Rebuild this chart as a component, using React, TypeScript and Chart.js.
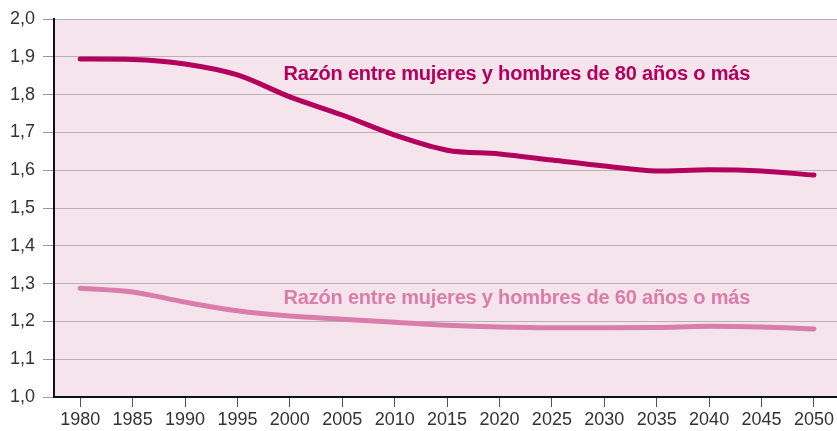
import React, { useEffect, useRef } from "react";
import { Chart, registerables } from "chart.js";

Chart.register(...registerables);

const years = [1980, 1985, 1990, 1995, 2000, 2005, 2010, 2015, 2020, 2025, 2030, 2035, 2040, 2045, 2050];
const ratio80 = [1.894, 1.893, 1.881, 1.852, 1.794, 1.746, 1.693, 1.653, 1.643, 1.627, 1.611, 1.598, 1.601, 1.598, 1.587];
const ratio60 = [1.288, 1.278, 1.251, 1.228, 1.214, 1.206, 1.198, 1.190, 1.185, 1.183, 1.183, 1.184, 1.187, 1.185, 1.180];
const label80 = "Razón entre mujeres y hombres de 80 años o más";
const label60 = "Razón entre mujeres y hombres de 60 años o más";

const C80 = "#b3005c";
const C60 = "#d97dab";

export default function App() {
  const ref = useRef<HTMLCanvasElement>(null);
  useEffect(() => {
    const ctx = ref.current!.getContext("2d")!;
    const bgPlugin = {
      id: "bg",
      beforeDraw(chart: any) {
        const { ctx, chartArea } = chart;
        ctx.save();
        ctx.fillStyle = "#f6e4ec";
        ctx.fillRect(chartArea.left, chartArea.top, chartArea.right - chartArea.left, chartArea.bottom - chartArea.top);
        ctx.restore();
      },
    };
    const textPlugin = {
      id: "texts",
      afterDatasetsDraw(chart: any) {
        const { ctx } = chart;
        const xs = chart.scales.x;
        const ys = chart.scales.y;
        ctx.save();
        ctx.font = "bold 20px 'Liberation Sans', sans-serif";
        try {
          (ctx as any).letterSpacing = "-0.2px";
        } catch (e) {}
        ctx.textBaseline = "middle";
        ctx.textAlign = "left";
        ctx.fillStyle = C80;
        ctx.fillText(label80, xs.getPixelForValue(1999.4), ys.getPixelForValue(1.853));
        ctx.fillStyle = C60;
        ctx.fillText(label60, xs.getPixelForValue(1999.4), ys.getPixelForValue(1.261));
        ctx.restore();
      },
    };
    const chart = new Chart(ctx, {
      type: "line",
      data: {
        datasets: [
          {
            label: label80,
            data: years.map((x, i) => ({ x, y: ratio80[i] })),
            borderColor: C80,
            borderWidth: 5,
            pointRadius: 0,
            tension: 0.4,
            cubicInterpolationMode: "monotone",
            borderCapStyle: "round",
            borderJoinStyle: "round",
          },
          {
            label: label60,
            data: years.map((x, i) => ({ x, y: ratio60[i] })),
            borderColor: C60,
            borderWidth: 5,
            pointRadius: 0,
            tension: 0.4,
            cubicInterpolationMode: "monotone",
            borderCapStyle: "round",
            borderJoinStyle: "round",
          },
        ],
      },
      options: {
        responsive: false,
        animation: false,
        layout: { padding: { top: 19, right: 0, left: 0, bottom: 0 } },
        plugins: { legend: { display: false }, tooltip: { enabled: false } },
        scales: {
          x: {
            type: "linear",
            min: 1977.5,
            max: 2052.2,
            afterBuildTicks: (s: any) => {
              s.ticks = years.map((v) => ({ value: v }));
            },
            afterFit: (s: any) => {
              s.height = 34;
            },
            grid: { drawOnChartArea: false, drawTicks: true, tickLength: 10, tickColor: "#555", tickWidth: 1 },
            border: { color: "#111", width: 2 },
            ticks: {
              color: "#333",
              font: { family: "'Liberation Sans', sans-serif", size: 18 },
              padding: 2,
              maxRotation: 0,
              autoSkip: false,
              callback: (v: any) => String(v),
            },
          },
          y: {
            min: 1.0,
            max: 2.0,
            afterFit: (s: any) => {
              s.width = 54;
            },
            grid: { color: "#b9b1b5", lineWidth: 1, tickLength: 11, tickColor: "#999" },
            border: { color: "#111", width: 2 },
            ticks: {
              stepSize: 0.1,
              color: "#333",
              padding: 8,
              font: { family: "'Liberation Sans', sans-serif", size: 18 },
              callback: (v: any) => Number(v).toFixed(1).replace(".", ","),
            },
          },
        },
      },
      plugins: [bgPlugin, textPlugin],
    } as any);
    return () => chart.destroy();
  }, []);
  return (
    <div style={{ position: "absolute", left: 0, top: 0, width: 837, height: 431, background: "#fff" }}>
      <canvas ref={ref} width={837} height={431} />
    </div>
  );
}
